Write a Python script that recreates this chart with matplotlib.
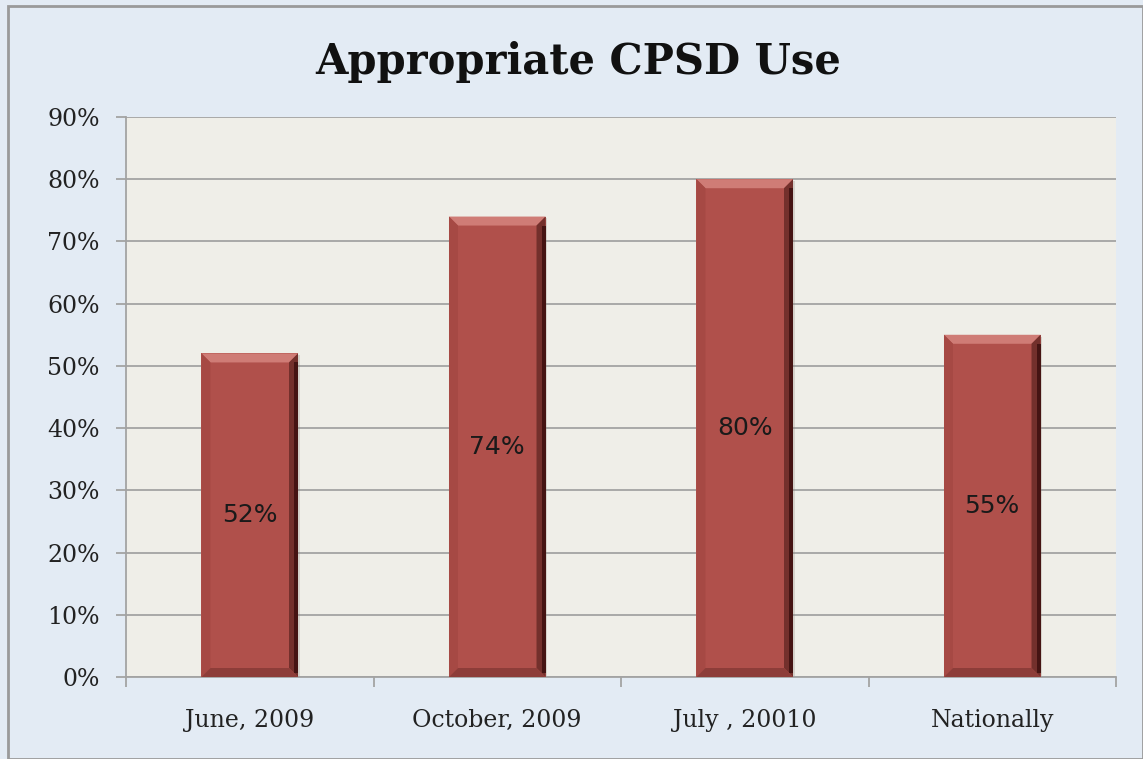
import numpy as np
from matplotlib import pyplot as plt
from matplotlib.patches import Rectangle, Polygon

categories = ['June, 2009', 'October, 2009', 'July , 20010', 'Nationally']
values = [52, 74, 80, 55]
yticks = [0, 10, 20, 30, 40, 50, 60, 70, 80, 90]

W, H = 1143, 759
fig = plt.figure(figsize=(W / 100, H / 100), dpi=100)
fig.patch.set_facecolor('#e3ebf4')
# outer border
fig.patches.append(Rectangle((8 / W, 0), 1 - 8 / W, 1 - 6 / H, transform=fig.transFigure,
                             fill=False, edgecolor='#9a9a9a', lw=2))

ax = fig.add_axes([126 / W, 82 / H, (1116 - 126) / W, (677 - 117) / H])
ax.set_facecolor('#efeee8')

n = len(categories)
x = np.arange(n)
bw = 0.39
ax.set_xlim(-0.5, n - 0.5)
ax.set_ylim(0, 90)

# bevel size in data units (about 9 px)
bx = 9 * (n / 990)
by = 9 * (90 / 560)

for xi, v in zip(x, values):
    l, r, t = xi - bw / 2, xi + bw / 2, v
    # soft shadow
    ax.add_patch(Rectangle((l + 0.008, 0), bw, t - 0.3, color='#8a8078', alpha=0.25, lw=0, zorder=2))
    ax.add_patch(Rectangle((l, 0), bw, t, color='#b0504b', lw=0, zorder=3))
    # bevels: top, left, right, bottom
    ax.add_patch(Polygon([(l, t), (r, t), (r - bx, t - by), (l + bx, t - by)],
                         closed=True, color='#cf7c76', lw=0, zorder=4))
    ax.add_patch(Polygon([(l, 0), (l, t), (l + bx, t - by), (l + bx, by)],
                         closed=True, color='#a64944', lw=0, zorder=4))
    ax.add_patch(Polygon([(r, 0), (r, t), (r - bx, t - by), (r - bx, by)],
                         closed=True, color='#73302c', lw=0, zorder=4))
    ax.add_patch(Polygon([(l, 0), (r, 0), (r - bx, by), (l + bx, by)],
                         closed=True, color='#8d3d39', lw=0, zorder=4))
    ax.add_patch(Rectangle((r - bx * 0.4, by * 0.5), bx * 0.4, t - by * 1.5,
                           color='#451413', lw=0, zorder=4))
    ax.text(xi, v / 2, f'{v}%', ha='center', va='center', fontsize=18,
            family='DejaVu Sans', color='#1a1a1a', zorder=5)

ax.set_yticks(yticks)
ax.set_yticklabels([f'{t}%' for t in yticks], family='DejaVu Serif', fontsize=17, color='#222222')
ax.yaxis.grid(True, color='#a3a3a3', lw=1.3, zorder=1)
ax.set_axisbelow(True)
ax.tick_params(axis='y', length=7, width=1.3, color='#a3a3a3', pad=12)

ax.set_xticks(x)
ax.set_xticklabels(categories, family='DejaVu Serif', fontsize=17, color='#222222')
ax.set_xticks(np.arange(-0.5, n, 1), minor=True)
ax.tick_params(axis='x', which='major', length=0, pad=23)
ax.tick_params(axis='x', which='minor', length=7, width=1.3, color='#a3a3a3')

for s in ['top', 'right']:
    ax.spines[s].set_visible(False)
for s in ['left', 'bottom']:
    ax.spines[s].set_color('#a3a3a3')
    ax.spines[s].set_linewidth(1.3)

fig.text(578 / W, 1 - 62 / H, 'Appropriate CPSD Use', ha='center', va='center',
         fontsize=30, fontweight='bold', family='DejaVu Serif', color='#111111')

fig.savefig('out.png', dpi=100, facecolor=fig.get_facecolor())
